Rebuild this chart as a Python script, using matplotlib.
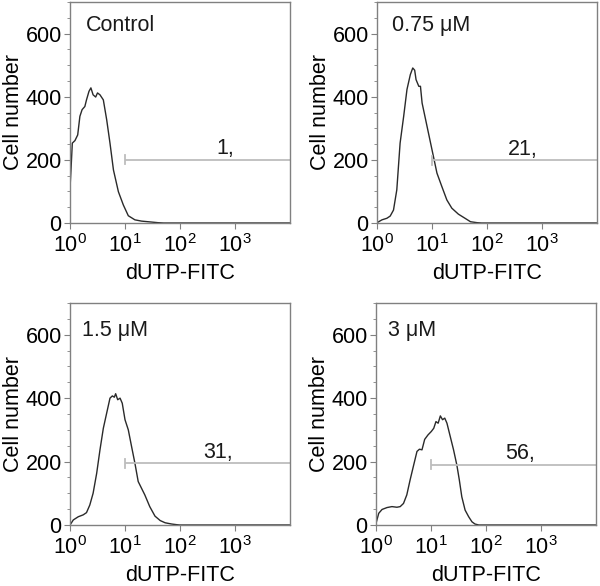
import numpy as np
import matplotlib
matplotlib.use("Agg")
import matplotlib.pyplot as plt
from matplotlib.ticker import LogLocator, MultipleLocator, NullFormatter

plt.rcParams['font.family'] = ['Liberation Sans', 'DejaVu Sans']
plt.rcParams['mathtext.fontset'] = 'custom'
plt.rcParams['mathtext.rm'] = 'Liberation Sans'
plt.rcParams['mathtext.it'] = 'Liberation Sans'

# ---- data (x in log10 units of dUTP-FITC intensity, y in cell number) ----
titles = ["Control", "0.75 μM", "1.5 μM", "3 μM"]
gate_labels = ["1,", "21,", "31,", "56,"]
gate_levels = [200, 198, 195, 190]
gate_label_logx = [2.67, 2.38, 2.42, 2.35]

control_logx = [0.0, 0.018, 0.042, 0.09, 0.14, 0.18, 0.22, 0.27, 0.30, 0.345, 0.38, 0.42,
                0.467, 0.50, 0.545, 0.606, 0.667, 0.727, 0.79, 0.88, 0.97, 1.06, 1.18,
                1.30, 1.48, 1.6, 1.7, 4.0]
control_y = [110, 168, 253, 261, 279, 338, 359, 369, 390, 417, 428, 406,
             399, 412, 406, 390, 327, 253, 168, 99, 57, 23, 10,
             6, 3, 1, 0, 0]

c075_logx = [0.0, 0.09, 0.18, 0.24, 0.30, 0.36, 0.42, 0.485, 0.545, 0.606, 0.65, 0.685,
             0.71, 0.76, 0.79, 0.82, 0.91, 1.0, 1.09, 1.18, 1.27, 1.36, 1.48, 1.6,
             1.7, 1.82, 1.9, 4.0]
c075_y = [1, 10, 15, 22, 41, 105, 253, 338, 423, 470, 491, 484,
          454, 433, 433, 380, 306, 232, 158, 115, 73, 47, 28, 15,
          4, 1, 0, 0]

c15_logx = [0.0, 0.06, 0.15, 0.24, 0.30, 0.36, 0.42, 0.485, 0.545, 0.606, 0.667, 0.727,
            0.77, 0.806, 0.83, 0.867, 0.91, 0.95, 1.0, 1.06, 1.12, 1.18, 1.24, 1.30,
            1.36, 1.45, 1.545, 1.64, 1.73, 1.85, 1.94, 2.0, 4.0]
c15_y = [0, 16, 26, 32, 39, 63, 100, 163, 237, 305, 353, 400,
         407, 403, 414, 395, 400, 384, 332, 300, 247, 195, 137, 116,
         95, 58, 28, 14, 7, 3, 1, 0, 0]

c3_logx = [0.0, 0.05, 0.11, 0.2, 0.29, 0.38, 0.44, 0.5, 0.56, 0.62, 0.685, 0.745,
           0.79, 0.836, 0.885, 0.945, 1.006, 1.05, 1.09, 1.13, 1.17, 1.21, 1.25, 1.29,
           1.35, 1.41, 1.47, 1.515, 1.56, 1.62, 1.685, 1.745, 1.8, 1.87, 4.0]
c3_y = [5, 37, 49, 55, 58, 56, 58, 68, 95, 142, 189, 232,
        239, 237, 270, 284, 295, 305, 326, 321, 344, 332, 337, 321,
        279, 237, 189, 142, 89, 47, 26, 10, 3, 0, 0]

series = [(control_logx, control_y), (c075_logx, c075_y), (c15_logx, c15_y), (c3_logx, c3_y)]

W, H = 600, 586
fig = plt.figure(figsize=(6.0, 5.86), dpi=100)

# axes boxes in pixels: (left, top, right, bottom)
boxes = [(70, 2, 290, 223), (377, 2, 597, 223), (70, 303, 290, 525), (376, 303, 596, 525)]
title_pos = [(0.07, 0.94), (0.07, 0.94), (0.055, 0.925), (0.055, 0.925)]

FS = 15.5
spine_col = '#808080'
for i, (l, t, r, b) in enumerate(boxes):
    ax = fig.add_axes([l / W, (H - b) / H, (r - l) / W, (b - t) / H])
    lx, yy = series[i]
    ax.plot(10 ** np.array(lx), yy, color='#2a2a2a', lw=1.0)
    ax.set_xscale('log')
    ax.set_xlim(1, 1e4)
    ax.set_ylim(0, 700)
    ax.set_xticks([1, 10, 100, 1000])
    ax.set_xticklabels([r'$10^0$', r'$10^1$', r'$10^2$', r'$10^3$'])
    ax.xaxis.set_minor_locator(LogLocator(base=10, subs=np.arange(2, 10)))
    ax.xaxis.set_minor_formatter(NullFormatter())
    ax.set_yticks([0, 200, 400, 600])
    ax.yaxis.set_minor_locator(MultipleLocator(50))
    for s in ax.spines.values():
        s.set_color(spine_col)
        s.set_linewidth(1.0)
    ax.tick_params(axis='both', which='major', direction='out', length=4, width=0.8,
                   color=spine_col, labelsize=FS)
    ax.tick_params(axis='x', which='major', pad=4)
    ax.tick_params(axis='y', which='major', pad=2)
    ax.tick_params(axis='both', which='minor', direction='out', length=2.5, width=0.6,
                   color=spine_col)
    ax.set_ylabel('Cell number', fontsize=FS, labelpad=1)
    ax.set_xlabel('dUTP-FITC', fontsize=FS, labelpad=4)
    # gate marker
    g = gate_levels[i]
    ax.plot([10, 1e4], [g, g], color='#bdbdbd', lw=1.3, solid_capstyle='butt', clip_on=False)
    ax.plot([10, 10], [g - 14, g + 14], color='#bdbdbd', lw=1.3)
    ax.text(10 ** gate_label_logx[i], g + 2, gate_labels[i], fontsize=FS, ha='left',
            va='bottom', color='#1a1a1a')
    ax.text(title_pos[i][0], title_pos[i][1], titles[i], transform=ax.transAxes,
            fontsize=FS, ha='left', va='top', color='#1a1a1a')

fig.savefig('out.png', dpi=100)
